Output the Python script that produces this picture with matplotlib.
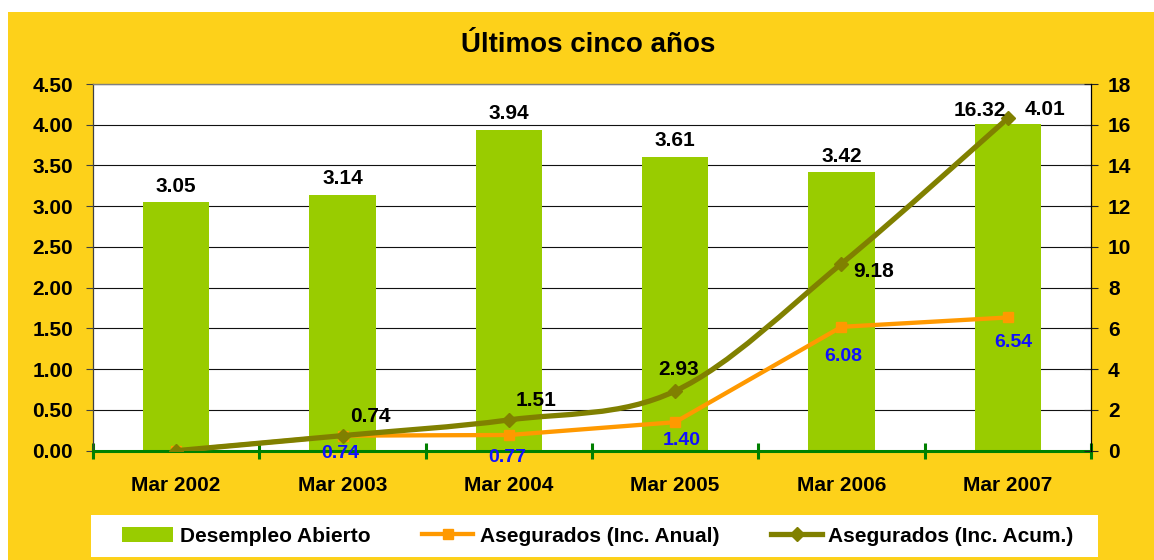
"""Desempleo abierto y asegurados: ultimos cinco anos."""

import matplotlib

matplotlib.use("Agg")
import matplotlib.pyplot as plt
import numpy as np
from matplotlib.lines import Line2D
from matplotlib.patches import PathPatch, Patch, Rectangle
from matplotlib.path import Path

plt.rcParams["font.family"] = ["Liberation Sans", "DejaVu Sans"]
plt.rcParams["font.weight"] = "bold"

periodos = ["Mar 2002", "Mar 2003", "Mar 2004", "Mar 2005", "Mar 2006", "Mar 2007"]
desempleo = [3.05, 3.14, 3.94, 3.61, 3.42, 4.01]
inc_anual = [0.00, 0.74, 0.77, 1.40, 6.08, 6.54]
inc_acum = [0.00, 0.74, 1.51, 2.93, 9.18, 16.32]

# label offsets in pixels (hand placed in the original)
off_bar = [(0, 16), (0, 16), (0, 16), (0, 16), (0, 16), (37, 14)]
off_anual = [None, (-2, -18), (-2, -22), (7, -18), (2, -30), (5, -25)]
off_acum = [None, (28, 19), (27, 19), (3, 22), (32, -8), (-28, 8)]

YELLOW = "#FDD11A"
GREEN_BAR = "#99CC00"
ORANGE = "#FF9900"
OLIVE = "#808000"
AXIS_GREEN = "#008000"
BLUE = "#1010FF"

W, H = 1154, 560


def smooth_path(xs, ys):
    """Excel-like smoothed line: cubic Bezier through every point."""
    pts = np.column_stack([xs, ys]).astype(float)
    n = len(pts)
    verts = [pts[0]]
    codes = [Path.MOVETO]
    for i in range(n - 1):
        p0 = pts[max(i - 1, 0)]
        p1 = pts[i]
        p2 = pts[i + 1]
        p3 = pts[min(i + 2, n - 1)]
        verts += [p1 + (p2 - p0) / 6.0, p2 - (p3 - p1) / 6.0, p2]
        codes += [Path.CURVE4] * 3
    return Path(verts, codes)


fig = plt.figure(figsize=(W / 100, H / 100), dpi=100, facecolor="white")
fig.patches.append(
    Rectangle((8 / W, 0), 1 - 8 / W, 1 - 12 / H, transform=fig.transFigure,
              facecolor=YELLOW, edgecolor="none", zorder=-10)
)
fig.patches.append(
    Rectangle((91 / W, 3 / H), 1007 / W, 42 / H, transform=fig.transFigure,
              facecolor="white", edgecolor="none", zorder=-9)
)

ax = fig.add_axes([93 / W, (H - 450.7) / H, 998 / W, 366.7 / H])
ax.set_facecolor("white")
x = np.arange(len(periodos))

bars = ax.bar(x, desempleo, width=0.40, color=GREEN_BAR, zorder=2)
ax.set_xlim(-0.5, len(periodos) - 0.5)
ax.set_ylim(0, 4.5)
ax.set_yticks(np.arange(0, 4.51, 0.5))
ax.set_yticklabels([f"{v:.2f}" for v in np.arange(0, 4.51, 0.5)], fontsize=15, fontweight="bold")
ax.yaxis.grid(True, color="#111111", linewidth=0.8, zorder=1)
ax.set_axisbelow(True)
ax.tick_params(axis="y", direction="out", length=5, width=0.8, color="#404040", pad=9.4)

ax.set_xticks(np.arange(-0.5, len(periodos), 1.0))
ax.set_xticklabels([])
ax.tick_params(axis="x", which="major", direction="inout", length=12, width=2.2, color=AXIS_GREEN)
ax.set_xticks(x, minor=True)
ax.set_xticklabels(periodos, minor=True, fontsize=15, fontweight="bold")
ax.tick_params(axis="x", which="minor", length=0, pad=18)

ax.spines["bottom"].set_color(AXIS_GREEN)
ax.spines["bottom"].set_linewidth(2.2)
ax.spines["bottom"].set_zorder(5)
ax.spines["top"].set_color("#808080")
ax.spines["top"].set_linewidth(1.0)
ax.spines["left"].set_color("#404040")
ax.spines["left"].set_linewidth(0.9)
ax.spines["right"].set_visible(False)

for rect, val, off in zip(bars, desempleo, off_bar):
    ax.annotate(f"{val:.2f}", (rect.get_x() + rect.get_width() / 2, val),
                xytext=off, textcoords="offset pixels", ha="center", va="center",
                fontsize=15, fontweight="bold", color="black")

ax2 = ax.twinx()
ax2.set_ylim(0, 18)
ax2.set_yticks(np.arange(0, 18.1, 2))
ax2.set_yticklabels([f"{v:d}" for v in range(0, 19, 2)], fontsize=15, fontweight="bold")
ax2.tick_params(axis="y", direction="inout", length=10, width=0.8, color="#222222", pad=7.2)
for side in ("top", "left", "bottom"):
    ax2.spines[side].set_visible(False)
ax2.spines["right"].set_color("black")
ax2.spines["right"].set_linewidth(0.9)

# annual series: straight segments; cumulative series: smoothed
ax2.plot(x, inc_anual, color=ORANGE, linewidth=3.1, marker="s", markersize=7,
         solid_joinstyle="miter", zorder=4)
ax2.add_patch(PathPatch(smooth_path(x, inc_acum), facecolor="none", edgecolor=OLIVE,
                        linewidth=3.8, capstyle="round", joinstyle="round", zorder=5))
ax2.plot(x, inc_acum, ls="none", marker="D", markersize=7, color=OLIVE, zorder=6)

for xi, val, off in zip(x, inc_anual, off_anual):
    if off is None:
        continue
    ax2.annotate(f"{val:.2f}", (xi, val), xytext=off, textcoords="offset pixels",
                 ha="center", va="center", fontsize=14, fontweight="bold", color=BLUE, zorder=7)
for xi, val, off in zip(x, inc_acum, off_acum):
    if off is None:
        continue
    ax2.annotate(f"{val:.2f}", (xi, val), xytext=off, textcoords="offset pixels",
                 ha="center", va="center", fontsize=15, fontweight="bold", color="black", zorder=7)

fig.text(0.51, 1 - 45 / H, "Últimos cinco años", ha="center", va="center",
         fontsize=20, fontweight="bold")

handles = [
    Patch(facecolor=GREEN_BAR, edgecolor="none"),
    Line2D([], [], color=ORANGE, linewidth=3.1, marker="s", markersize=7),
    Line2D([], [], color=OLIVE, linewidth=3.8, marker="D", markersize=7),
]
labels = ["Desempleo Abierto", "Asegurados (Inc. Anual)", "Asegurados (Inc. Acum.)"]
fig.legend(handles, labels, loc="center", bbox_to_anchor=(598 / W, 24 / H), ncol=3,
           frameon=False, handlelength=2.45, handletextpad=0.3, columnspacing=2.5,
           prop={"size": 15, "weight": "bold"})

fig.savefig("out.png", dpi=100, facecolor=fig.get_facecolor())
